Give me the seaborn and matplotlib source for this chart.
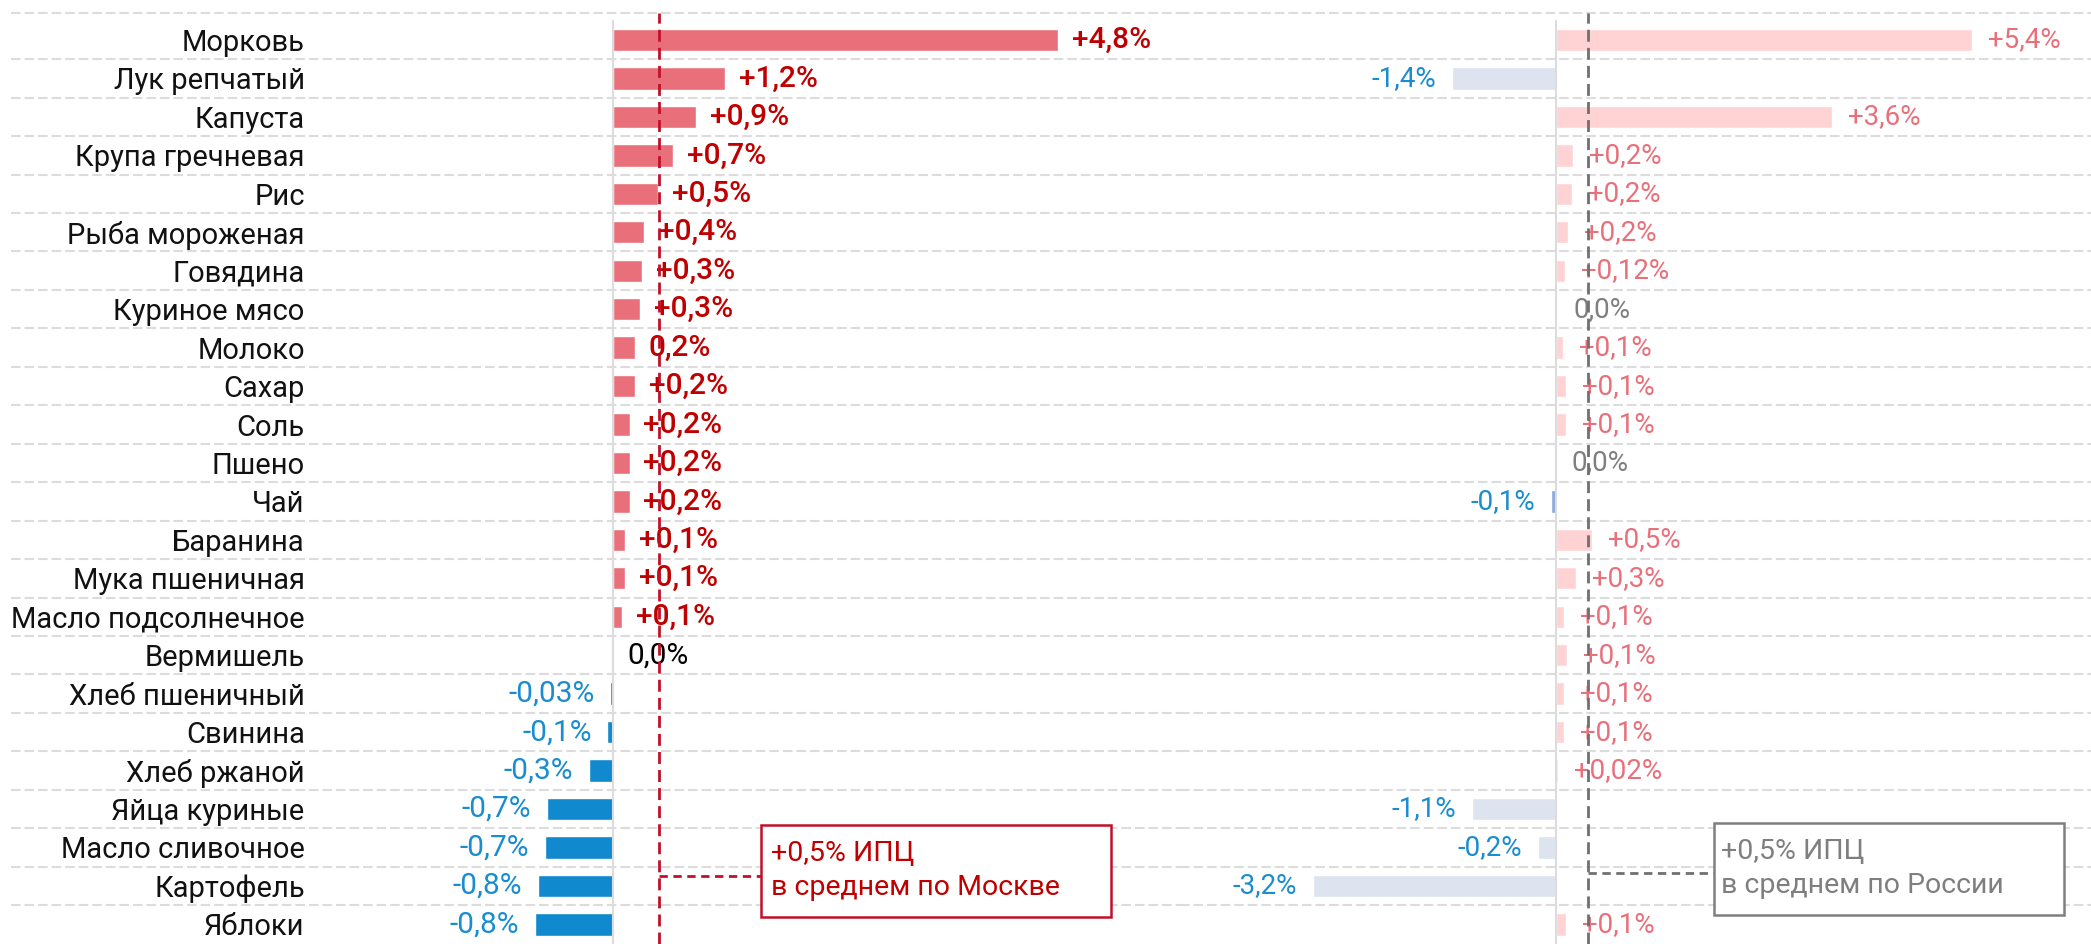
import numpy as np
import pandas as pd
import matplotlib.pyplot as plt
import seaborn as sns
from matplotlib.patches import Rectangle

categories = [
    "Морковь", "Лук репчатый", "Капуста", "Крупа гречневая", "Рис",
    "Рыба мороженая", "Говядина", "Куриное мясо", "Молоко", "Сахар",
    "Соль", "Пшено", "Чай", "Баранина", "Мука пшеничная",
    "Масло подсолнечное", "Вермишель", "Хлеб пшеничный", "Свинина",
    "Хлеб ржаной", "Яйца куриные", "Масло сливочное", "Картофель", "Яблоки",
]

# price change, Moscow (%)
moscow = [4.84, 1.22, 0.90, 0.65, 0.49, 0.34, 0.32, 0.29, 0.235, 0.235,
          0.18, 0.18, 0.18, 0.127, 0.127, 0.094, 0.0, -0.03, -0.06,
          -0.26, -0.715, -0.74, -0.82, -0.845]
moscow_labels = ["+4,8%", "+1,2%", "+0,9%", "+0,7%", "+0,5%", "+0,4%", "+0,3%",
                 "+0,3%", "0,2%", "+0,2%", "+0,2%", "+0,2%", "+0,2%", "+0,1%",
                 "+0,1%", "+0,1%", "0,0%", "-0,03%", "-0,1%", "-0,3%", "-0,7%",
                 "-0,7%", "-0,8%", "-0,8%"]

# price change, Russia (%)
russia = [5.4, -1.35, 3.58, 0.22, 0.21, 0.16, 0.12, 0.017, 0.095, 0.13,
          0.13, 0.0, -0.06, 0.47, 0.26, 0.10, 0.14, 0.10, 0.10, 0.026,
          -1.09, -0.23, -3.15, 0.125]
russia_labels = ["+5,4%", "-1,4%", "+3,6%", "+0,2%", "+0,2%", "+0,2%", "+0,12%",
                 "0,0%", "+0,1%", "+0,1%", "+0,1%", "0,0%", "-0,1%", "+0,5%",
                 "+0,3%", "+0,1%", "+0,1%", "+0,1%", "+0,1%", "+0,02%", "-1,1%",
                 "-0,2%", "-3,2%", "+0,1%"]

moscow_cpi = 0.5
russia_cpi = 0.42
highlight_right = ["Чай"]

RED_LINE = "#C0102A"
RED_TXT = "#C00000"
BLUE_TXT = "#1A8CD0"
PINK_TXT = "#E8707A"
GREY = "#7F7F7F"
GRID = "#DCDCDC"

sns.set_style("white")
plt.rcParams["font.family"] = ["Roboto", "DejaVu Sans"]

W, H = 2091, 944
fig = plt.figure(figsize=(W / 100, H / 100), dpi=100)
ax1 = fig.add_axes([11 / W, 0, (1180 - 11) / W, 1])
ax2 = fig.add_axes([1180 / W, 0, (W - 1180) / W, 1])

df = pd.DataFrame({"cat": categories, "moscow": moscow, "russia": russia})

left_colors = ["#E9707B" if v >= 0 else "#1189CF" for v in moscow]
right_colors = []
for c, v in zip(categories, russia):
    if c in highlight_right:
        right_colors.append("#8EA9DB")
    elif v >= 0:
        right_colors.append("#FFD3D4")
    else:
        right_colors.append("#DDE4F0")

sns.barplot(data=df, x="moscow", y="cat", hue="cat", palette=left_colors,
            legend=False, ax=ax1, width=0.58, saturation=1, orient="h")
sns.barplot(data=df, x="russia", y="cat", hue="cat", palette=right_colors,
            legend=False, ax=ax2, width=0.58, saturation=1, orient="h")

n = len(categories)
ylim = ((H - 40) / 38.45, -40 / 38.45)
ax1.set_xlim(-602 / 92, 567 / 92)
ax2.set_xlim(-376 / 77, 535 / 77)

for ax in (ax1, ax2):
    ax.set_ylim(*ylim)
    ax.set_xlabel("")
    ax.set_ylabel("")
    ax.xaxis.set_visible(False)
    for s in ("top", "right", "bottom"):
        ax.spines[s].set_visible(False)
    ax.spines["left"].set_position(("data", 0))
    ax.spines["left"].set_color(GRID)
    ax.spines["left"].set_linewidth(1.5)
    ax.spines["left"].set_bounds(n - 0.5, -0.5)
    for b in [-0.7] + list(np.arange(0.5, n - 0.5, 1)):
        ax.axhline(b, color=GRID, lw=1.5, ls=(0, (4.6, 1.9)), zorder=0)

# category labels via tick labels, ticks at row boundaries
ax1.tick_params(axis="y", which="major", length=0, pad=222, labelsize=21,
                labelcolor="#111111")
ax1.set_yticks(np.arange(-0.5, n, 1), minor=True)
ax1.tick_params(axis="y", which="minor", length=6, width=1.5, color=GRID)
ax2.tick_params(axis="y", which="both", length=0, labelleft=False)

# value labels
for i, (v, t) in enumerate(zip(moscow, moscow_labels)):
    if v > 0:
        col, ha, dx, fw = RED_TXT, "left", 10, "medium"
    elif v < 0:
        col, ha, dx, fw = BLUE_TXT, "right", -11.5, "normal"
    else:
        col, ha, dx, fw = "black", "left", 10, "normal"
    ax1.annotate(t, xy=(v, i), xytext=(dx, 0), textcoords="offset points",
                 ha=ha, va="center", fontsize=21.5, color=col, fontweight=fw)

for i, (v, t) in enumerate(zip(russia, russia_labels)):
    if t.startswith("+"):
        col, ha, dx = PINK_TXT, "left", 11.5
    elif t.startswith("-"):
        col, ha, dx = BLUE_TXT, "right", -11.5
    else:
        col, ha, dx = GREY, "left", 11.5
    ax2.annotate(t, xy=(v, i), xytext=(dx, 0), textcoords="offset points",
                 ha=ha, va="center", fontsize=20, color=col)

# CPI reference lines
ax1.plot([moscow_cpi, moscow_cpi], [ylim[0], -0.7], color=RED_LINE, lw=2,
         ls=(0, (4.3, 2.2)), zorder=3)
ax2.plot([russia_cpi, russia_cpi], [ylim[0], -0.7], color="#707070", lw=2,
         ls=(0, (4.3, 2.2)), zorder=3)

# Moscow note
ax1.plot([moscow_cpi, 1.61], [21.74, 21.74], color=RED_LINE, lw=2,
         ls=(0, (3, 2)), zorder=3)
ax1.add_patch(Rectangle((1.61, 20.42), 3.80, 2.39, fill=True, facecolor="white",
                        edgecolor=RED_LINE, lw=1.8, zorder=4))
ax1.text(1.72, 21.16, "+0,5% ИПЦ", color=RED_TXT, fontsize=20.5, va="center",
         ha="left", zorder=5)
ax1.text(1.72, 22.04, "в среднем по Москве", color=RED_TXT, fontsize=20.5,
         va="center", ha="left", zorder=5)

# Russia note
ax2.plot([russia_cpi, 2.05], [21.66, 21.66], color="#707070", lw=2,
         ls=(0, (3, 2)), zorder=3)
ax2.add_patch(Rectangle((2.05, 20.36), 4.55, 2.39, fill=True, facecolor="white",
                        edgecolor=GREY, lw=1.8, zorder=4))
ax2.text(2.14, 21.1, "+0,5% ИПЦ", color=GREY, fontsize=20.5, va="center",
         ha="left", zorder=5)
ax2.text(2.14, 21.98, "в среднем по России", color=GREY, fontsize=20.5,
         va="center", ha="left", zorder=5)

fig.savefig("out.png", dpi=100, facecolor="white")
